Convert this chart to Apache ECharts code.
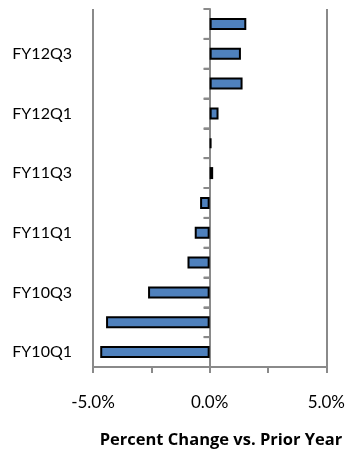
<!DOCTYPE html>
<html>
<head>
<meta charset="utf-8">
<style>
  html, body { margin: 0; padding: 0; background: #fff; }
  #chart { width: 348px; height: 449px; }
</style>
<script src="https://cdn.jsdelivr.net/npm/echarts@6/dist/echarts.min.js"></script>
</head>
<body>
<div id="chart"></div>
<script>
// Quarters, bottom to top
const quarters = ['FY10Q1', 'FY10Q2', 'FY10Q3', 'FY10Q4',
                  'FY11Q1', 'FY11Q2', 'FY11Q3', 'FY11Q4',
                  'FY12Q1', 'FY12Q2', 'FY12Q3', 'FY12Q4'];
// Percent change vs. prior year
const pctChange = [-4.69, -4.44, -2.64, -0.95,
                   -0.64, -0.41, 0.15, 0.08,
                   0.38, 1.41, 1.34, 1.57];
const axisMin = -5;
const axisMax = 5;
const axisStep = 5;
const axisTitle = 'Percent Change vs. Prior Year';

const gray = '#8a8a8a';
const font = 'Lato, "Open Sans", sans-serif';
const tickLen = 6;

const chart = echarts.init(document.getElementById('chart'), null, { renderer: 'canvas' });

// tick marks on the zero line, at the boundaries of each quarter's band
function renderZeroTicks(params, api) {
  const idx = api.value(1);
  const center = api.coord([0, idx]);
  const band = api.size([0, 1])[1];
  const ys = [center[1] + band / 2];
  if (idx === quarters.length - 1) ys.push(center[1] - band / 2);
  return {
    type: 'group',
    children: ys.map(y => ({
      type: 'line',
      shape: { x1: center[0] - tickLen, y1: y, x2: center[0], y2: y },
      style: { stroke: gray, lineWidth: 2 }
    }))
  };
}

chart.setOption({
  animation: false,
  grid: { left: 93, right: 21, top: 9, bottom: 82 },
  xAxis: {
    type: 'value',
    min: axisMin,
    max: axisMax,
    interval: axisStep,
    axisLine: { show: true, onZero: false, lineStyle: { color: gray, width: 2 } },
    axisTick: { show: true, length: tickLen, lineStyle: { color: gray, width: 2 } },
    minorTick: { show: true, splitNumber: 2, length: tickLen, lineStyle: { color: gray, width: 2 } },
    splitLine: { show: true, lineStyle: { color: gray, width: 2 } },
    axisLabel: {
      margin: 27,
      fontFamily: font,
      fontSize: 17,
      color: '#000',
      formatter: v => v.toFixed(1) + '%'
    }
  },
  yAxis: [
    {
      // axis through zero
      type: 'category',
      data: quarters,
      axisLine: { show: true, onZero: true, lineStyle: { color: gray, width: 2 } },
      axisTick: { show: true, interval: 0, length: tickLen, lineStyle: { color: gray, width: 2 } },
      axisLabel: { show: false },
      splitLine: { show: false }
    },
    {
      // quarter labels along the left edge
      type: 'category',
      data: quarters,
      position: 'left',
      axisLine: { show: false, onZero: false },
      axisTick: { show: false },
      splitLine: { show: false },
      axisLabel: {
        interval: 1,
        margin: 21,
        fontFamily: font,
        fontSize: 16,
        color: '#000'
      }
    }
  ],
  series: [
    {
      type: 'bar',
      yAxisIndex: 0,
      data: pctChange,
      barWidth: 12,
      itemStyle: { color: '#4f81bd', borderColor: '#000', borderWidth: 2 }
    },
    {
      type: 'custom',
      yAxisIndex: 0,
      silent: true,
      z: 1,
      renderItem: renderZeroTicks,
      data: quarters.map((q, i) => [0, i])
    }
  ],
  graphic: [{
    type: 'text',
    x: 221,
    y: 440,
    style: {
      text: axisTitle,
      font: 'bold 16.5px "Open Sans", sans-serif',
      fill: '#000',
      textAlign: 'center',
      textVerticalAlign: 'middle'
    }
  }]
});
</script>
</body>
</html>
